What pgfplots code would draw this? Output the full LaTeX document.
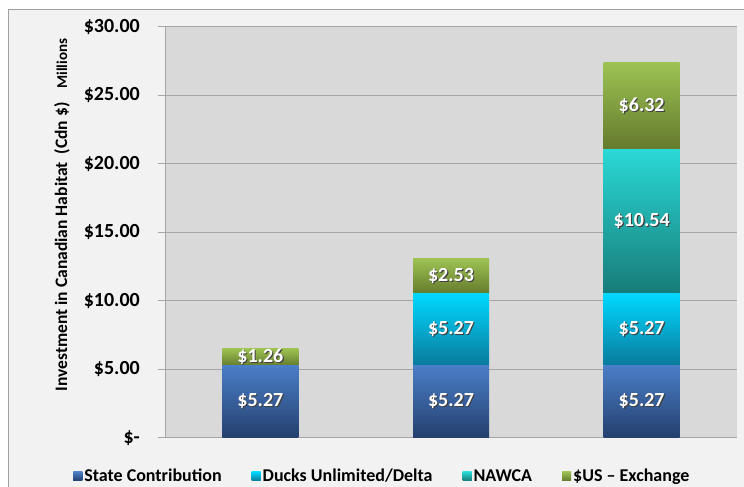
\documentclass[border=0pt]{standalone}
\usepackage{fontspec}
\setmainfont{Carlito}
\usepackage{pgfplots}
\usepackage{pgfplotstable}
\pgfplotsset{compat=1.18}

\definecolor{bgout}{HTML}{F2F2F2}
\definecolor{framec}{HTML}{A0A0A0}
\definecolor{plotbg}{HTML}{D9D9D9}
\definecolor{gridc}{HTML}{A6A6A6}
\definecolor{stateTop}{HTML}{4A7EC6}
\definecolor{stateBot}{HTML}{243F6E}
\definecolor{ducksTop}{HTML}{00D8FF}
\definecolor{ducksBot}{HTML}{0A7A9C}
\definecolor{nawcaTop}{HTML}{2AD9D6}
\definecolor{nawcaBot}{HTML}{177B78}
\definecolor{usTop}{HTML}{9DC253}
\definecolor{usBot}{HTML}{647A2D}
\definecolor{legState}{HTML}{3F6FB0}
\definecolor{legDucks}{HTML}{00B8E8}
\definecolor{legNawca}{HTML}{23B5B2}
\definecolor{legUS}{HTML}{86A84A}
\definecolor{shadowc}{HTML}{404040}

\newcommand\shadowed[1]{\makebox[0pt][l]{\hspace{1.1pt}\raisebox{-1.1pt}{\textcolor{shadowc}{#1}}}#1}

% x = category (1, 2, 3), y = amount in millions of Cdn $
\pgfplotstableread{
x y
1 5.27
}\stateA
\pgfplotstableread{
x y
1 1.26
}\usA
\pgfplotstableread{
x y
2 5.27
}\stateB
\pgfplotstableread{
x y
2 5.27
}\ducksB
\pgfplotstableread{
x y
2 2.53
}\usB
\pgfplotstableread{
x y
3 5.27
}\stateC
\pgfplotstableread{
x y
3 5.27
}\ducksC
\pgfplotstableread{
x y
3 10.54
}\nawcaC
\pgfplotstableread{
x y
3 6.32
}\usC

\pgfplotsset{
  common/.style={
    at={(165pt,49pt)}, anchor=south west,
    scale only axis, width=572pt, height=411pt,
    xmin=0.5, xmax=3.5, ymin=0, ymax=30,
    ybar stacked, bar width=76pt,
    point meta=explicit symbolic,
    nodes near coords={\shadowed{\$\pgfplotspointmeta}},
    nodes near coords align={center},
    every node near coord/.append style={text=white, font=\fontsize{20}{20}\selectfont\bfseries},
  },
  stateS/.style={draw=none, top color=stateTop, bottom color=stateBot,
    legend image code/.code={\fill[legState] (0pt,-4.5pt) rectangle (9pt,4.5pt);}},
  ducksS/.style={draw=none, top color=ducksTop, bottom color=ducksBot,
    legend image code/.code={\fill[legDucks] (0pt,-4.5pt) rectangle (9pt,4.5pt);}},
  nawcaS/.style={draw=none, top color=nawcaTop, bottom color=nawcaBot,
    legend image code/.code={\fill[legNawca] (0pt,-4.5pt) rectangle (9pt,4.5pt);}},
  usS/.style={draw=none, top color=usTop, bottom color=usBot,
    legend image code/.code={\fill[legUS] (0pt,-4.5pt) rectangle (9pt,4.5pt);}},
}

\begin{document}
\begin{tikzpicture}
\useasboundingbox (0pt,0pt) rectangle (744pt,487pt);
\fill[white] (0pt,0pt) rectangle (744pt,487pt);
\filldraw[fill=bgout, draw=framec, line width=1pt] (8pt,-10pt) rectangle (760pt,477pt);
\begin{axis}[
  common,
  axis background/.style={fill=plotbg},
  axis lines*=left,
  axis line style={draw=gridc, line width=1pt},
  xtick=\empty,
  ytick={0,5,10,15,20,25,30},
  yticklabels={\$-\hspace{8pt},\$5.00,\$10.00,\$15.00,\$20.00,\$25.00,\$30.00},
  tick align=outside,
  major tick length=7pt,
  tick style={draw=gridc, line width=1pt},
  ymajorgrids,
  major grid style={draw=gridc, line width=1pt},
  yticklabel style={font=\fontsize{20}{20}\selectfont\bfseries, anchor=east, inner sep=0pt, xshift=-18pt},
  ylabel={Investment in Canadian Habitat\ \ (Cdn \$)\hspace{14pt}{\fontsize{15}{15}\selectfont Millions}},
  ylabel style={at={(axis description cs:-0.180,0.5426)}, anchor=center, font=\fontsize{17.5}{18}\selectfont\bfseries},
  legend style={at={(axis description cs:0.38,-0.093)}, anchor=center, legend columns=4, draw=none, fill=none,
    inner sep=1pt,
    font=\fontsize{18}{18}\selectfont\bfseries,
    /tikz/every even column/.append style={column sep=28pt}},
  legend cell align=left,
]
\addplot[stateS] table[x=x, y=y, meta=y] {\stateC};
\addplot[ducksS] table[x=x, y=y, meta=y] {\ducksC};
\addplot[nawcaS] table[x=x, y=y, meta=y] {\nawcaC};
\addplot[usS] table[x=x, y=y, meta=y] {\usC};
\legend{State Contribution, Ducks Unlimited/Delta, NAWCA, \$US -- Exchange}
\end{axis}
\begin{axis}[common, hide axis]
\addplot[stateS] table[x=x, y=y, meta=y] {\stateA};
\addplot[usS] table[x=x, y=y, meta=y] {\usA};
\end{axis}
\begin{axis}[common, hide axis]
\addplot[stateS] table[x=x, y=y, meta=y] {\stateB};
\addplot[ducksS] table[x=x, y=y, meta=y] {\ducksB};
\addplot[usS] table[x=x, y=y, meta=y] {\usB};
\end{axis}
\end{tikzpicture}
\end{document}
